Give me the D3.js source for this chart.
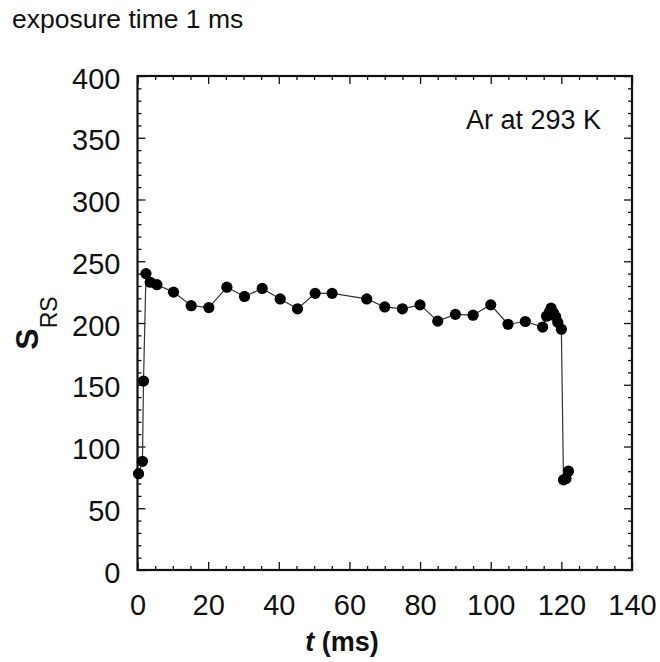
<!DOCTYPE html>
<html>
<head>
<meta charset="utf-8">
<script src="https://cdn.jsdelivr.net/npm/d3@7"></script>
<style>
  body { margin: 0; background: #fff; }
  svg text { font-family: "Liberation Sans", Arial, sans-serif; fill: #111; }
</style>
</head>
<body>
<svg id="chart"></svg>
<script>
// time (ms) and signal S_RS
const times = [0.3, 1.4, 1.7, 2.4, 3.6, 5.5, 10.2, 15.2, 20.2, 25.3, 30.3, 35.3, 40.4, 45.3,
    50.3, 55.1, 64.9, 70, 75, 80, 85, 90, 95, 100, 104.9, 109.8, 114.7, 115.8, 116.6, 117.1,
    117.8, 118.4, 119, 120, 120.6, 121.3, 122];
const signal = [78, 88, 153, 240, 233, 231, 225, 214, 212.5, 229, 221.5, 228, 219.5, 211.5,
    224, 224, 219.5, 213, 211.5, 214.7, 201.5, 207, 206.3, 214.7, 199, 201.2, 196.7, 205.5, 209, 212,
    208, 205, 200.5, 195, 73, 74, 80];

const xTicks = [0, 20, 40, 60, 80, 100, 120, 140];
const yTicks = [0, 50, 100, 150, 200, 250, 300, 350, 400];

const width = 660;
const height = 662;

const svg = d3.select('#chart')
    .attr('width', width)
    .attr('height', height);

const x = d3.scaleLinear().domain([0, 140]).range([137.5, 632]);
const y = d3.scaleLinear().domain([0, 400]).range([570, 76]);

const xMinor = d3.range(0, 141, 5).filter(v => v % 20 !== 0);
const yMinor = d3.range(0, 401, 10).filter(v => v % 50 !== 0);

// inward ticks on all four sides
const drawAxis = (axis, transform, labels) => {
    const g = svg.append('g').attr('transform', transform).call(axis);
    g.select('.domain').remove();
    g.selectAll('.tick line').attr('stroke', '#111').attr('stroke-width', 1.3);
    if (!labels) g.selectAll('.tick text').remove();
    return g;
};

const xb = drawAxis(d3.axisBottom(x).tickValues(xTicks).tickSize(-8).tickPadding(24), `translate(0,${y(0)})`, true);
xb.selectAll('.tick text').attr('font-size', 29);
drawAxis(d3.axisBottom(x).tickValues(xMinor).tickSize(-4), `translate(0,${y(0)})`, false);
drawAxis(d3.axisTop(x).tickValues(xTicks).tickSize(-8), `translate(0,${y(400)})`, false);
drawAxis(d3.axisTop(x).tickValues(xMinor).tickSize(-4), `translate(0,${y(400)})`, false);

const yl = drawAxis(d3.axisLeft(y).tickValues(yTicks).tickSize(-8).tickPadding(17), `translate(${x(0)},0)`, true);
yl.selectAll('.tick text').attr('font-size', 29).attr('dy', '0.42em');
drawAxis(d3.axisLeft(y).tickValues(yMinor).tickSize(-4), `translate(${x(0)},0)`, false);
drawAxis(d3.axisRight(y).tickValues(yTicks).tickSize(-8), `translate(${x(140)},0)`, false);
drawAxis(d3.axisRight(y).tickValues(yMinor).tickSize(-4), `translate(${x(140)},0)`, false);

svg.append('rect')
    .attr('x', x(0))
    .attr('y', y(400))
    .attr('width', x(140) - x(0))
    .attr('height', y(0) - y(400))
    .attr('fill', 'none')
    .attr('stroke', '#111')
    .attr('stroke-width', 2.2);

const points = times.map((t, i) => ({ t: t, v: signal[i] }));

const line = d3.line()
    .x(d => x(d.t))
    .y(d => y(d.v));

svg.append('path')
    .datum(points)
    .attr('d', line)
    .attr('fill', 'none')
    .attr('stroke', '#333')
    .attr('stroke-width', 1.2);

svg.selectAll('.dot')
    .data(points)
    .enter().append('circle')
    .attr('class', 'dot')
    .attr('cx', d => x(d.t))
    .attr('cy', d => y(d.v))
    .attr('r', 5.6)
    .attr('fill', '#000');

// labels
svg.append('text')
    .attr('x', 12)
    .attr('y', 28)
    .attr('font-size', 26.5)
    .text('exposure time 1 ms');

svg.append('text')
    .attr('x', 601)
    .attr('y', 129)
    .attr('text-anchor', 'end')
    .attr('font-size', 27)
    .text('Ar at 293 K');

const yTitle = svg.append('text')
    .attr('transform', 'translate(38,323) rotate(-90)')
    .attr('text-anchor', 'middle');
yTitle.append('tspan').attr('font-size', 32).attr('font-weight', 'bold').text('S');
yTitle.append('tspan').attr('font-size', 23).attr('dy', 19).text('RS');

const xTitle = svg.append('text')
    .attr('x', 342)
    .attr('y', 651)
    .attr('text-anchor', 'middle')
    .attr('font-size', 27)
    .attr('font-weight', 'bold');
xTitle.append('tspan').attr('font-style', 'italic').text('t');
xTitle.append('tspan').text(' (ms)');
</script>
</body>
</html>
